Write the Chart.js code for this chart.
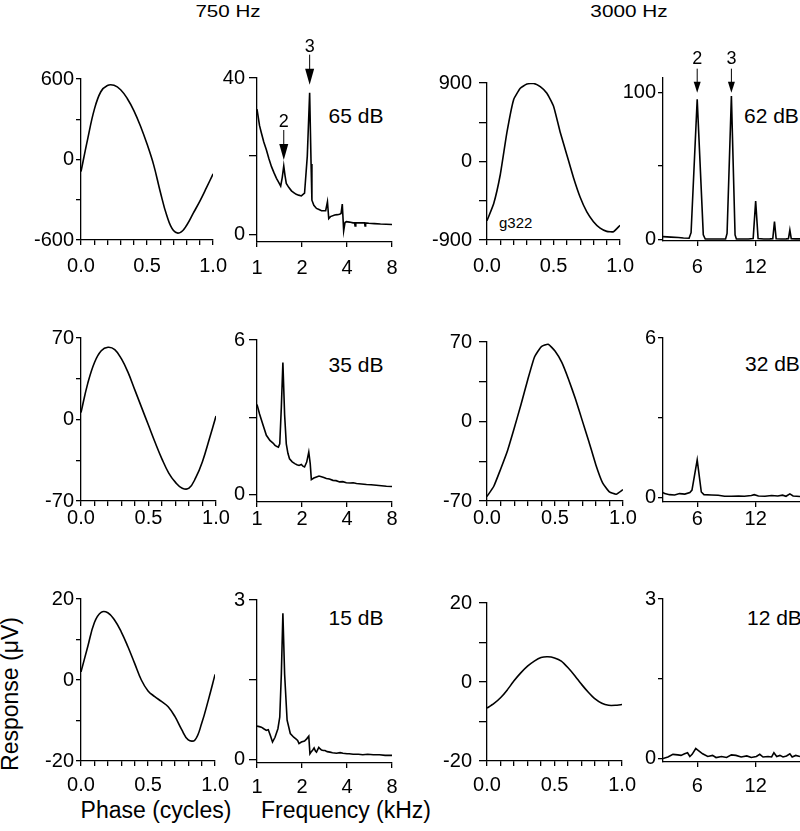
<!DOCTYPE html>
<html>
<head>
<meta charset="utf-8">
<script src="https://cdn.jsdelivr.net/npm/chart.js@4.4.1/dist/chart.umd.min.js"></script>
<style>
  html, body { margin: 0; padding: 0; background: #fff; overflow: hidden; }
  #fig { position: relative; width: 800px; height: 831px; font-family: "Liberation Sans", Arial, sans-serif; color: #000; }
  #fig canvas { position: absolute; }
  .txt { position: absolute; white-space: nowrap; line-height: 1; }
</style>
</head>
<body>
<div id="fig">
  <div class="txt" style="left:228px;top:11px;font-size:17px;transform:translate(-50%,-50%) scaleX(1.21)">750 Hz</div>
  <div class="txt" style="left:629px;top:11px;font-size:17px;transform:translate(-50%,-50%) scaleX(1.22)">3000 Hz</div>
  <div class="txt" style="left:156px;top:810px;font-size:23px;transform:translate(-50%,-50%)">Phase (cycles)</div>
  <div class="txt" style="left:346px;top:810px;font-size:23px;transform:translate(-50%,-50%)">Frequency (kHz)</div>
  <div class="txt" style="left:10px;top:694px;font-size:23px;transform:translate(-50%,-50%) rotate(-90deg)">Response (μV)</div>
  <div class="txt" style="left:356px;top:115px;font-size:21px;transform:translate(-50%,-50%)">65 dB</div>
  <div class="txt" style="left:356px;top:364px;font-size:21px;transform:translate(-50%,-50%)">35 dB</div>
  <div class="txt" style="left:356px;top:617px;font-size:21px;transform:translate(-50%,-50%)">15 dB</div>
  <div class="txt" style="left:744px;top:115px;font-size:21px;transform:translateY(-50%)">62 dB</div>
  <div class="txt" style="left:745px;top:363px;font-size:21px;transform:translateY(-50%)">32 dB</div>
  <div class="txt" style="left:747px;top:617px;font-size:21px;transform:translateY(-50%)">12 dB</div>
  <div class="txt" style="left:499px;top:222px;font-size:15px;transform:translateY(-50%)">g322</div>
</div>
<script>
// phase of the stimulus cycle (cycles)
const phase = [0, 0.05, 0.1, 0.15, 0.2, 0.25, 0.3, 0.35, 0.4, 0.45, 0.5,
               0.55, 0.6, 0.65, 0.7, 0.75, 0.8, 0.85, 0.9, 0.95, 1.0];

// period histograms, 750 Hz (uV)
const resp750_65 = [-90, 150, 370, 505, 552, 553, 520, 455, 365, 250, 115, -40, -240, -420, -530, -545, -490, -400, -310, -210, -107];
const resp750_35 = [6, 31, 49, 59, 62, 60, 52, 40, 25, 10, -5, -20, -34, -46, -54, -59, -59, -50, -36, -17, 3];
const resp750_15 = [2, 8.2, 14.2, 16.7, 16.6, 14.8, 11.9, 8.2, 4.1, 0, -2.7, -4.1, -5.3, -6.6, -9, -12.2, -14.8, -14.8, -10.7, -4.9, 1.4];

// period histograms, 3000 Hz (uV)
const resp3000_62 = [-678, -485, -149, 336, 709, 839, 888, 895, 858, 783, 634, 336, 75, -186, -410, -578, -690, -764, -801, -805, -731];
const resp3000_32 = [-66, -57, -42, -26, -6, 15, 37, 57, 66, 68, 62, 52, 37, 20, 1, -18, -38, -54, -62, -64, -60];
const resp3000_12 = [-6.6, -5.5, -4, -2, 0.3, 2.3, 4, 5.3, 6.2, 6.4, 6.1, 5.3, 3.6, 1.6, -0.6, -2.6, -4.3, -5.4, -5.9, -5.9, -5.7];

// spectra, 750 Hz (kHz / uV)
const f750_65 = [1.0, 1.04, 1.07, 1.11, 1.155, 1.2, 1.25, 1.3, 1.35, 1.4, 1.44, 1.475, 1.51, 1.54, 1.57, 1.63, 1.7, 1.77, 1.83, 1.9, 1.98, 2.08, 2.17, 2.25, 2.3, 2.33, 2.4, 2.5, 2.6, 2.7, 2.8, 2.88, 2.96, 3.02, 3.1, 3.31, 3.45, 3.57, 3.65, 3.72, 3.8, 3.88, 3.96, 4.15, 4.39, 4.5, 4.53, 4.58, 4.8, 5.1, 5.25, 5.28, 5.33, 5.6, 6.1, 6.7, 7.3, 8.0];
const a750_65 = [32.0, 27.8, 25.9, 23.6, 21.6, 19.4, 17.3, 15.7, 14.3, 13.2, 12.3, 14.5, 17.5, 15.0, 13.0, 12.0, 11.1, 10.6, 10.2, 10.0, 9.8, 10.5, 20, 36.2, 18, 8.7, 7.4, 6.6, 6.3, 6.0, 6.0, 6.0, 8.3, 4.0, 4.5, 4.9, 5.0, 5.1, 5.3, 7.7, 0.85, 3.0, 3.2, 3.1, 2.9, 2.9, 2.1, 2.9, 2.9, 2.9, 2.9, 2.1, 2.9, 2.8, 2.7, 2.6, 2.55, 2.5];

const f750_35 = [1.0, 1.04, 1.1, 1.155, 1.22, 1.28, 1.32, 1.36, 1.39, 1.42, 1.455, 1.49, 1.53, 1.57, 1.61, 1.65, 1.72, 1.79, 1.85, 1.91, 1.98, 2.03, 2.08, 2.15, 2.22, 2.27, 2.31, 2.4, 2.5, 2.6, 2.7, 2.8, 2.91, 3.05, 3.22, 3.38, 3.57, 3.75, 3.96, 4.2, 4.4, 4.63, 5.0, 5.4, 5.8, 6.29, 6.8, 7.34, 8.0];
const a750_35 = [3.5, 3.13, 2.68, 2.3, 2.1, 2.0, 1.91, 1.86, 1.84, 1.97, 3.4, 5.13, 3.1, 1.97, 1.6, 1.39, 1.27, 1.2, 1.16, 1.13, 1.17, 1.1, 1.07, 1.26, 1.65, 1.2, 0.58, 0.64, 0.68, 0.72, 0.69, 0.66, 0.62, 0.6, 0.55, 0.54, 0.49, 0.5, 0.46, 0.45, 0.46, 0.43, 0.41, 0.39, 0.38, 0.36, 0.34, 0.32, 0.31];

const f750_15 = [1.0, 1.035, 1.07, 1.11, 1.155, 1.19, 1.23, 1.27, 1.32, 1.38, 1.42, 1.455, 1.49, 1.53, 1.59, 1.67, 1.76, 1.82, 1.87, 1.91, 1.98, 2.08, 2.15, 2.22, 2.26, 2.31, 2.36, 2.41, 2.46, 2.5, 2.59, 2.65, 2.7, 2.78, 2.85, 2.95, 3.08, 3.2, 3.4, 3.6, 3.76, 4.0, 4.14, 4.4, 4.77, 5.1, 5.5, 6.0, 6.6, 7.2, 8.0];
const a750_15 = [0.63, 0.62, 0.61, 0.58, 0.55, 0.56, 0.45, 0.33, 0.42, 0.58, 0.8, 1.61, 2.75, 1.61, 0.74, 0.49, 0.42, 0.39, 0.36, 0.3, 0.33, 0.35, 0.39, 0.44, 0.11, 0.15, 0.18, 0.22, 0.16, 0.14, 0.23, 0.2, 0.18, 0.17, 0.17, 0.15, 0.14, 0.13, 0.12, 0.13, 0.12, 0.11, 0.11, 0.1, 0.1, 0.09, 0.1, 0.09, 0.09, 0.08, 0.08];

// spectra, 3000 Hz (kHz / uV)
const f3000_62 = [4.0, 4.4, 4.8, 5.1, 5.45, 5.58, 6.0, 6.45, 6.6, 7.2, 7.8, 8.4, 8.55, 9.0, 9.4, 9.55, 10.3, 11.0, 11.65, 12.0, 12.35, 13.2, 14.2, 14.7, 15.0, 15.3, 16.2, 17.2, 17.7, 18.0, 18.3, 19.3, 20.3];
const a3000_62 = [1.8, 1.5, 1.2, 0.9, 0.7, 4.5, 95.5, 3, 0.2, 0.2, 0.2, 0.2, 4, 97.7, 3, 0.2, 0.2, 0.2, 0.5, 26, 0.5, 0.2, 0.3, 0.4, 12, 0.4, 0.2, 0.3, 0.4, 6.3, 0.4, 0.3, 0.3];

const f3000_32 = [4.0, 4.08, 4.32, 4.59, 4.87, 5.18, 5.5, 5.64, 6.0, 6.3, 6.5, 7.1, 7.7, 8.3, 9.0, 9.8, 10.5, 11.4, 11.8, 12.4, 13.4, 14.5, 15.6, 16.5, 17.2, 18.0, 18.7, 19.5, 20.3];
const a3000_32 = [0.19, 0.15, 0.11, 0.10, 0.15, 0.13, 0.19, 0.28, 1.42, 0.21, 0.11, 0.10, 0.09, 0.05, 0.05, 0.06, 0.05, 0.08, 0.11, 0.06, 0.05, 0.08, 0.06, 0.09, 0.05, 0.14, 0.06, 0.05, 0.04];

const f3000_12 = [4.0, 4.24, 4.5, 4.77, 4.95, 5.17, 5.35, 5.5, 5.65, 5.9, 6.0, 6.4, 6.8, 7.2, 7.5, 8.0, 8.5, 9.0, 9.5, 10.1, 10.8, 11.4, 12.1, 12.6, 13.1, 13.9, 14.5, 14.9, 15.4, 16.0, 16.6, 17.3, 18.0, 18.5, 19.3, 20.3];
const a3000_12 = [0.0, 0.03, 0.08, 0.07, 0.06, 0.09, 0.11, 0.04, 0.08, 0.19, 0.17, 0.09, 0.04, 0.06, 0.02, 0.04, 0.02, 0.07, 0.06, 0.03, 0.05, 0.02, 0.04, 0.08, 0.03, 0.04, 0.03, 0.11, 0.04, 0.06, 0.03, 0.05, 0.09, 0.03, 0.06, 0.04];

// ticks and tick labels
const phaseTicks = [0, 0.1, 0.2, 0.3, 0.4, 0.5, 0.6, 0.7, 0.8, 0.9, 1.0];
const phaseLabels = ['0.0', '', '', '', '', '0.5', '', '', '', '', '1.0'];
const freqTicks750 = [1, 2, 4, 8];
const freqTicks3000 = [6, 12];

// harmonic arrows (label, peak frequency, arrow tip value)
const arrows750 = [{label: '2', f: 1.51, tip: 19}, {label: '3', f: 2.25, tip: 38.3}];
const arrows3000 = [{label: '2', f: 6, tip: 100}, {label: '3', f: 9, tip: 100}];

Chart.defaults.font.family = "'Liberation Sans', Arial, sans-serif";
Chart.defaults.color = '#000';

const peakArrows = {
    id: 'peakArrows',
    afterDatasetsDraw(chart, args, opts) {
        if (!opts || !opts.items) return;
        const {ctx} = chart;
        const x = chart.scales.x, y = chart.scales.y;
        ctx.save();
        ctx.strokeStyle = '#000';
        ctx.fillStyle = '#000';
        ctx.lineWidth = 1;
        ctx.font = "18px 'Liberation Sans', Arial, sans-serif";
        ctx.textAlign = 'center';
        ctx.textBaseline = 'middle';
        opts.items.forEach((a) => {
            const px = x.getPixelForValue(a.f);
            const tip = y.getPixelForValue(a.tip);
            ctx.beginPath();
            ctx.moveTo(px, tip - opts.len);
            ctx.lineTo(px, tip - opts.head + 1);
            ctx.stroke();
            ctx.beginPath();
            ctx.moveTo(px - opts.hw / 2, tip - opts.head);
            ctx.lineTo(px + opts.hw / 2, tip - opts.head);
            ctx.lineTo(px, tip);
            ctx.closePath();
            ctx.fill();
            ctx.fillText(a.label, px, tip - opts.len - opts.gap);
        });
        ctx.restore();
    }
};

const fig = document.getElementById('fig');
const PAD_L = 60, PAD_R = 20, PAD_B = 45;

function mkLabels(ticks) {
    // label only the ends and the middle tick
    return ticks.map((v, i) => (i === 0 || i === ticks.length - 1 || i === (ticks.length - 1) / 2) ? String(v) : '');
}

function addPanel(p) {
    const padT = p.padT || 15;
    const w = p.r - p.l, h = p.b - p.t;
    const cv = document.createElement('canvas');
    cv.width = w + PAD_L + PAD_R;
    cv.height = h + padT + PAD_B;
    cv.style.left = (p.l - PAD_L) + 'px';
    cv.style.top = (p.t - padT) + 'px';
    cv.style.width = cv.width + 'px';
    cv.style.height = cv.height + 'px';
    fig.appendChild(cv);

    const yLabels = p.yLabels || mkLabels(p.yTicks);
    const axisGrid = (len) => ({display: true, drawOnChartArea: false, drawTicks: true, tickLength: len, color: '#000', lineWidth: 1.3});
    const axisBorder = {display: true, color: '#000', width: 1.3};

    new Chart(cv, {
        type: 'line',
        data: {
            datasets: [{
                data: p.xs.map((x, i) => ({x: x, y: p.ys[i]})),
                borderColor: '#000',
                borderWidth: 1.6,
                pointRadius: 0,
                tension: p.tension || 0,
                fill: false
            }]
        },
        options: {
            responsive: false,
            animation: false,
            events: [],
            layout: {padding: {left: 0, top: padT, right: PAD_R, bottom: 0}},
            plugins: {
                legend: {display: false},
                tooltip: {enabled: false},
                peakArrows: p.arrows || {}
            },
            scales: {
                x: {
                    type: p.xType || 'linear',
                    min: p.xMin,
                    max: p.xMax,
                    afterBuildTicks: (s) => { s.ticks = p.xTicks.map((v) => ({value: v})); },
                    afterFit: (s) => { s.height = PAD_B; },
                    ticks: {
                        autoSkip: false,
                        maxRotation: 0,
                        padding: p.xPad,
                        font: {size: 20},
                        callback: (v, i) => p.xLabels[i]
                    },
                    grid: axisGrid(5),
                    border: axisBorder
                },
                y: {
                    min: p.yMin,
                    max: p.yMax,
                    afterBuildTicks: (s) => { s.ticks = p.yTicks.map((v) => ({value: v})); },
                    afterFit: (s) => { s.width = PAD_L; },
                    ticks: {
                        padding: p.yPad,
                        font: {size: 20},
                        callback: (v, i) => yLabels[i]
                    },
                    grid: axisGrid(p.yTickLen || 5),
                    border: axisBorder
                }
            }
        },
        plugins: p.arrows ? [peakArrows] : []
    });
}

const cols = {
    c1: {l: 81, r: 216},
    c2: {l: 257, r: 392},
    c3: {l: 487, r: 623},
    c4: {l: 663, r: 800}
};

function phasePanel(col, t, b, ys, ymax, xPad, yPad, yTickLen, tension) {
    addPanel(Object.assign({}, col, {
        t: t, b: b, xs: phase, ys: ys, tension: tension,
        xMin: 0, xMax: 1, xTicks: phaseTicks, xLabels: phaseLabels, xPad: xPad,
        yMin: -ymax, yMax: ymax, yTicks: [-ymax, -ymax / 2, 0, ymax / 2, ymax],
        yPad: yPad, yTickLen: yTickLen
    }));
}

// 750 Hz period histograms
phasePanel(cols.c1, 79, 240, resp750_65, 600, 9, 2, 5, 0.4);
phasePanel(cols.c1, 338, 501, resp750_35, 70, 0, 2, 5, 0.4);
phasePanel(cols.c1, 599, 761, resp750_15, 20, 7, 2, 5, 0.4);

// 3000 Hz period histograms
phasePanel(cols.c3, 79, 240, resp3000_62, 900, 9, 7, 8, 0.15);
phasePanel(cols.c3, 338, 501, resp3000_32, 70, 0, 7, 8, 0.15);
phasePanel(cols.c3, 599, 761, resp3000_12, 20, 7, 7, 8, 0.15);

// 750 Hz spectra (log frequency axis)
function spec750(t, b, xs, ys, ymin, ytop, xPad, arrows) {
    addPanel(Object.assign({}, cols.c2, {
        t: t, b: b, xs: xs, ys: ys, padT: arrows ? 50 : 15,
        xType: 'logarithmic', xMin: 1, xMax: 8, xTicks: freqTicks750,
        xLabels: freqTicks750.map(String), xPad: xPad,
        yMin: ymin, yMax: ytop, yTicks: [0, ytop / 2, ytop],
        yLabels: ['0', '', String(ytop)], yPad: 4, yTickLen: 8,
        arrows: arrows
    }));
}
spec750(78, 242, f750_65, a750_65, -2.0, 40, 9, {items: arrows750, len: 30, head: 16, hw: 9, gap: 8});
spec750(339, 502, f750_35, a750_35, -0.29, 6, 0, null);
spec750(599, 763, f750_15, a750_15, -0.064, 3, 7, null);

// 3000 Hz spectra (log frequency axis)
function spec3000(t, b, xs, ys, ymin, ymax, ytop, xPad, arrows) {
    addPanel(Object.assign({}, cols.c4, {
        t: t, b: b, xs: xs, ys: ys, padT: arrows ? 50 : 15,
        xType: 'logarithmic', xMin: 4, xMax: 20.3, xTicks: freqTicks3000,
        xLabels: freqTicks3000.map(String), xPad: xPad,
        yMin: ymin, yMax: ymax, yTicks: [0, ytop / 2, ytop],
        yLabels: ['0', '', String(ytop)], yPad: 2, yTickLen: 5,
        arrows: arrows
    }));
}
spec3000(78, 241, f3000_62, a3000_62, -1.16, 110, 100, 9, {items: arrows3000, len: 24, head: 11, hw: 7, gap: 10});
spec3000(338, 502, f3000_32, a3000_32, -0.166, 6, 6, 0, null);
spec3000(599, 762, f3000_12, a3000_12, -0.064, 3, 3, 7, null);
</script>
</body>
</html>
